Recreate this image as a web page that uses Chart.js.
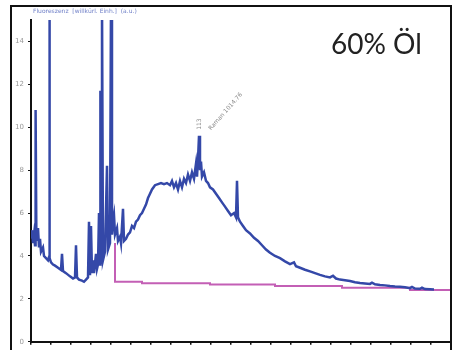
<!DOCTYPE html>
<html>
<head>
<meta charset="utf-8">
<script src="https://cdn.jsdelivr.net/npm/chart.js@4.4.0/dist/chart.umd.min.js"></script>
<style>
  html, body { margin: 0; padding: 0; background: #fff; }
  #wrap { width: 464px; height: 350px; position: relative; }
</style>
</head>
<body>
<div id="wrap"><canvas id="spec" width="464" height="350"></canvas></div>
<script>
// ---- data ----
const specX = [0.00, 0.05, 0.10, 0.15, 0.20, 0.23, 0.27, 0.35, 0.40, 0.45, 0.50, 0.60, 0.65, 0.75, 0.85, 0.90, 0.92, 0.94,
  1.00, 1.10, 1.20, 1.35, 1.50, 1.55, 1.60, 1.75, 1.95, 2.10, 2.20, 2.25, 2.30, 2.40, 2.55, 2.65, 2.75, 2.85, 2.90, 2.95,
  3.00, 3.05, 3.10, 3.15, 3.25, 3.30, 3.35, 3.40, 3.45, 3.47, 3.50, 3.55, 3.60, 3.70, 3.80, 3.85, 3.95, 4.00, 4.05, 4.10,
  4.15, 4.20, 4.30, 4.35, 4.45, 4.50, 4.60, 4.65, 4.75, 4.85, 4.95, 5.05, 5.15, 5.25, 5.35, 5.45, 5.55, 5.65, 5.75, 5.85,
  5.95, 6.05, 6.20, 6.35, 6.50, 6.65, 6.80, 6.95, 7.05, 7.15, 7.25, 7.35, 7.45, 7.55, 7.65, 7.75, 7.85, 7.95, 8.05, 8.15,
  8.25, 8.30, 8.35, 8.40, 8.45, 8.50, 8.55, 8.65, 8.75, 8.85, 8.95, 9.10, 9.25, 9.40, 9.55, 9.70, 9.85, 10.00, 10.15, 10.25,
  10.30, 10.35, 10.45, 10.60, 10.75, 10.95, 11.15, 11.35, 11.55, 11.75, 11.95, 12.20, 12.45, 12.70, 12.95, 13.15, 13.25,
  13.45, 13.70, 13.95, 14.20, 14.45, 14.70, 14.95, 15.10, 15.25, 15.45, 15.70, 15.95, 16.20, 16.45, 16.70, 16.95, 17.05,
  17.20, 17.45, 17.70, 17.95, 18.20, 18.45, 18.70, 18.95, 19.05, 19.20, 19.45, 19.55, 19.70, 19.95, 20.15];
const specY = [4.8, 5.2, 4.6, 5.0, 4.5, 10.8, 4.7, 5.3, 4.4, 4.8, 4.2, 4.4, 4.0, 3.9, 3.8, 3.95, 16, 3.9,
  3.7, 3.6, 3.55, 3.45, 3.35, 4.1, 3.3, 3.2, 3.05, 2.95, 3.0, 4.5, 3.0, 2.9, 2.85, 2.8, 2.9, 3.0, 5.6, 3.1,
  5.4, 3.2, 3.8, 3.2, 4.1, 3.4, 3.6, 6.0, 3.6, 11.7, 3.7, 16, 3.8, 4.2, 8.2, 4.3, 4.6, 16, 5.0, 5.6,
  5.9, 5.0, 5.3, 4.7, 4.9, 4.6, 6.2, 4.7, 4.8, 5.0, 5.1, 5.4, 5.3, 5.6, 5.7, 5.9, 6.0, 6.2, 6.4, 6.7,
  6.9, 7.1, 7.3, 7.35, 7.4, 7.35, 7.4, 7.3, 7.5, 7.2, 7.4, 7.1, 7.5, 7.2, 7.6, 7.4, 7.8, 7.5, 7.9, 7.6,
  8.3, 7.7, 8.5, 9.6, 8.0, 8.4, 7.7, 7.9, 7.5, 7.4, 7.2, 7.1, 6.9, 6.7, 6.5, 6.3, 6.1, 5.9, 6.0, 5.8,
  7.5, 5.8, 5.6, 5.4, 5.2, 5.05, 4.85, 4.7, 4.5, 4.3, 4.15, 4.0, 3.9, 3.75, 3.62, 3.7, 3.52,
  3.45, 3.36, 3.28, 3.2, 3.12, 3.05, 3.0, 3.08, 2.95, 2.9, 2.87, 2.83, 2.78, 2.74, 2.72, 2.7, 2.76,
  2.68, 2.65, 2.63, 2.6, 2.58, 2.57, 2.54, 2.5, 2.56, 2.48, 2.47, 2.52, 2.46, 2.45, 2.44];

const baseX = [4.2, 4.2, 5.55, 5.55, 8.95, 8.95, 12.2, 12.2, 15.55, 15.55, 18.95, 18.95, 21.0];
const baseY = [4.6, 2.8, 2.8, 2.73, 2.73, 2.67, 2.67, 2.6, 2.6, 2.52, 2.52, 2.42, 2.42];

const yTicks = [0, 2, 4, 6, 8, 10, 12, 14];

const toPts = (xs, ys) => xs.map((x, i) => ({ x: x, y: ys[i] }));

// frame and text labels around the plot
const framePlugin = {
  id: "frame",
  afterDraw(chart) {
    const c = chart.ctx;
    c.save();
    c.strokeStyle = "#111";
    c.lineWidth = 2;
    c.beginPath();
    c.moveTo(11, 350);
    c.lineTo(11, 6);
    c.lineTo(451, 6);
    c.lineTo(451, 350);
    c.stroke();

    c.fillStyle = "#222";
    c.font = "28px Lato";
    c.textAlign = "left";
    c.textBaseline = "alphabetic";
    c.fillText("60% Öl", 331, 54);

    c.fillStyle = "#7080c8";
    c.font = "6px 'DejaVu Sans'";
    c.fillText("Fluoreszenz  [willkürl. Einh.]  (a.u.)", 33, 13);

    // peak annotation
    const px = chart.scales.x.getPixelForValue(8.4);
    const py = chart.scales.y.getPixelForValue(9.6);
    c.fillStyle = "#888";
    c.font = "6px 'DejaVu Sans'";
    c.translate(px + 2, py - 6);
    c.rotate(-Math.PI / 2);
    c.fillText("113", 0, 0);
    c.rotate(Math.PI / 2 - 0.85);
    c.fillText("Raman 1014.76", 6, 8);
    c.restore();
  }
};

new Chart(document.getElementById("spec"), {
  type: "line",
  data: {
    datasets: [
      {
        data: toPts(specX, specY),
        borderColor: "#3448a8",
        borderWidth: 2.5,
        pointRadius: 0,
        tension: 0
      },
      {
        data: toPts(baseX, baseY),
        borderColor: "#c35fb5",
        borderWidth: 2,
        pointRadius: 0,
        tension: 0
      }
    ]
  },
  options: {
    responsive: false,
    animation: false,
    layout: { padding: { left: 0, top: 20, right: 13, bottom: 0 } },
    plugins: { legend: { display: false }, tooltip: { enabled: false } },
    scales: {
      x: {
        type: "linear",
        min: 0,
        max: 21,
        afterFit: s => { s.height = 6; },
        ticks: { stepSize: 1, display: false },
        grid: { drawOnChartArea: false, tickLength: 3, color: "#111", lineWidth: 1.5 },
        border: { color: "#111", width: 2 }
      },
      y: {
        min: 0,
        max: 15,
        afterFit: s => { s.width = 31; },
        afterBuildTicks: s => { s.ticks = yTicks.map(v => ({ value: v })); },
        ticks: { color: "#999", font: { size: 7, family: "DejaVu Sans" }, padding: 4 },
        grid: { drawOnChartArea: false, tickLength: 3, color: "#111", lineWidth: 1 },
        border: { color: "#111", width: 2 }
      }
    }
  },
  plugins: [framePlugin]
});
</script>
</body>
</html>
